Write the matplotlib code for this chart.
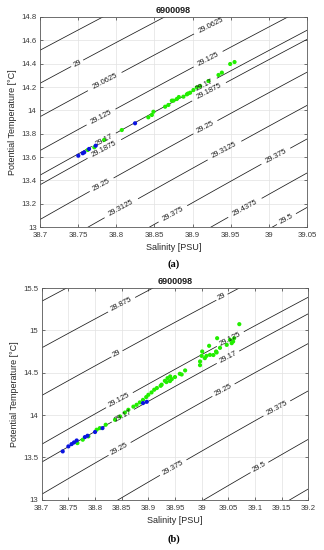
import numpy as np
import matplotlib
matplotlib.use("Agg")
import matplotlib.pyplot as plt
from matplotlib.ticker import FuncFormatter

plt.rcParams["font.family"] = ["Liberation Sans", "DejaVu Sans"]

# ---------------- data ----------------
title_text = "6900098"

# Panel (a)
a_green_S = [38.7626, 38.7712, 38.784, 38.8072, 38.842, 38.8466, 38.8487, 38.864,
             38.8683, 38.8728, 38.8749, 38.8793, 38.882, 38.888, 38.8925, 38.894,
             38.8968, 38.9011, 38.9056, 38.910, 38.9208, 38.934, 38.9384, 38.9493, 38.955]
a_green_T = [13.660, 13.683, 13.746, 13.831, 13.940, 13.960, 13.988, 14.031,
             14.046, 14.083, 14.083, 14.097, 14.114, 14.117, 14.137, 14.144,
             14.151, 14.174, 14.197, 14.208, 14.251, 14.303, 14.323, 14.397, 14.414]
a_blue_S = [38.7502, 38.756, 38.758, 38.7643, 38.773, 38.8246]
a_blue_T = [13.611, 13.632, 13.640, 13.669, 13.697, 13.889]
a_levels = [28.9375, 29.0, 29.0625, 29.125, 29.17, 29.1875, 29.25, 29.3125,
            29.375, 29.4375, 29.5]
a_xticks = [38.7, 38.75, 38.8, 38.85, 38.9, 38.95, 39.0, 39.05]
a_yticks = [13.0, 13.2, 13.4, 13.6, 13.8, 14.0, 14.2, 14.4, 14.6, 14.8]

# Panel (b)
b_green_S = [38.767, 38.777, 38.7875, 38.803, 38.809, 38.82, 38.8375, 38.847, 38.856,
             38.8625, 38.872, 38.878, 38.884, 38.89, 38.896, 38.9, 38.906, 38.911,
             38.916, 38.923, 38.925, 38.931, 38.934, 38.936, 38.941, 38.944, 38.9406,
             38.95, 38.959, 38.9625, 38.969, 38.997, 38.9969, 39.0, 39.001, 39.006,
             39.009, 39.014, 39.0156, 39.022, 39.027, 39.0281, 39.029, 39.0344,
             39.047, 39.053, 39.0563, 39.059, 39.061, 39.0706]
b_green_T = [13.669, 13.709, 13.748, 13.827, 13.846, 13.886, 13.945, 13.984, 14.030,
             14.063, 14.100, 14.122, 14.150, 14.180, 14.213, 14.240, 14.268, 14.300,
             14.320, 14.346, 14.360, 14.405, 14.390, 14.437, 14.457, 14.425, 14.402,
             14.450, 14.488, 14.480, 14.528, 14.634, 14.590, 14.700, 14.752, 14.673,
             14.700, 14.819, 14.712, 14.710, 14.752, 14.740, 14.909, 14.795,
             14.830, 14.890, 14.850, 14.870, 14.909, 15.075]
b_blue_S = [38.7394, 38.75, 38.756, 38.7606, 38.7656, 38.781, 38.786, 38.8, 38.814,
            38.89, 38.897]
b_blue_T = [13.571, 13.630, 13.657, 13.677, 13.700, 13.740, 13.756, 13.800, 13.846,
            14.142, 14.157]
b_levels = [28.75, 28.875, 29.0, 29.125, 29.17, 29.25, 29.375, 29.5, 29.625]
b_xticks = [38.7, 38.75, 38.8, 38.85, 38.9, 38.95, 39.0, 39.05, 39.1, 39.15, 39.2]
b_yticks = [13.0, 13.5, 14.0, 14.5, 15.0, 15.5]


def sigma0(S, T):
    """UNESCO EOS-80 density anomaly at surface pressure."""
    rw = (999.842594 + 6.793952e-2 * T - 9.095290e-3 * T**2 + 1.001685e-4 * T**3
          - 1.120083e-6 * T**4 + 6.536332e-9 * T**5)
    A = 0.824493 - 4.0899e-3 * T + 7.6438e-5 * T**2 - 8.2467e-7 * T**3 + 5.3875e-9 * T**4
    B = -5.72466e-3 + 1.0227e-4 * T - 1.6546e-6 * T**2
    C = 4.8314e-4
    return rw + A * S + B * S**1.5 + C * S**2 - 1000.0


FIG_W, FIG_H = 324, 550
fig = plt.figure(figsize=(FIG_W / 100, FIG_H / 100), dpi=100)
fig.patch.set_facecolor("white")

grey = "#262626"
tick_grey = "#3a3a3a"
spine_grey = "#5a5a5a"


def style_axes(ax, xticks, yticks, xlim, ylim):
    ax.set_xlim(*xlim)
    ax.set_ylim(*ylim)
    ax.set_xticks(xticks)
    ax.set_yticks(yticks)
    fmt = FuncFormatter(lambda v, p: "%g" % round(v, 4))
    ax.xaxis.set_major_formatter(fmt)
    ax.yaxis.set_major_formatter(fmt)
    ax.tick_params(direction="in", length=2, width=0.5, labelsize=5.6,
                   colors=tick_grey, top=True, right=True)
    ax.tick_params(axis="x", pad=3.5)
    ax.tick_params(axis="y", pad=2.5)
    ax.tick_params(labeltop=False, labelright=False)
    for s in ax.spines.values():
        s.set_color(spine_grey)
        s.set_linewidth(0.6)
    ax.grid(True, color="#e2e2e2", linewidth=0.5)
    ax.set_axisbelow(True)
    ax.set_xlabel("Salinity [PSU]", fontsize=6.5, color=grey, labelpad=3)
    ax.set_ylabel("Potential Temperature [°C]", fontsize=6.5, color=grey, labelpad=3)
    ax.set_title(title_text, fontsize=6.5, fontweight="bold", color="#1a1a1a", pad=3)


def draw_panel(ax, xlim, ylim, levels, gS, gT, bS, bT, label_pos, xticks, yticks):
    Sg = np.linspace(xlim[0] - 0.05, xlim[1] + 0.05, 300)
    Tg = np.linspace(ylim[0] - 0.3, ylim[1] + 0.3, 300)
    SS, TT = np.meshgrid(Sg, Tg)
    D = sigma0(SS, TT)
    cs = ax.contour(SS, TT, D, levels=levels, colors="#1a1a1a", linewidths=0.55)
    ax.clabel(cs, fmt=lambda v: "%g" % round(v, 4), fontsize=5.5, inline=True,
              inline_spacing=1, manual=label_pos)
    ax.scatter(gS, gT, s=9, color="#22ee00", edgecolors="none", zorder=3)
    ax.scatter(bS, bT, s=9, color="#0a14e0", edgecolors="none", zorder=4)
    style_axes(ax, xticks, yticks, xlim, ylim)


# Panel (a)
ax1 = fig.add_axes([40 / FIG_W, 1 - 227 / FIG_H, 267 / FIG_W, 210 / FIG_H])
a_lab = [(38.923, 14.746), (38.7485, 14.406), (38.785, 14.245), (38.781, 13.93),
         (38.921, 14.431), (38.914, 14.245), (38.9187, 14.197), (38.785, 13.731),
         (38.785, 13.66), (38.781, 13.36), (38.9165, 13.86), (38.809, 13.131),
         (38.9427, 13.645), (39.0105, 13.589), (38.875, 13.103), (38.969, 13.16),
         (39.0237, 13.06)]
draw_panel(ax1, (38.7, 39.05), (13.0, 14.8), a_levels, a_green_S, a_green_T,
           a_blue_S, a_blue_T, a_lab, a_xticks, a_yticks)

# Panel (b)
ax2 = fig.add_axes([41.7 / FIG_W, 1 - 499.7 / FIG_H, 266.6 / FIG_W, 211.5 / FIG_H])
b_lab = [(38.85, 15.303), (39.0375, 15.40), (38.8406, 14.732), (38.8438, 14.201),
         (39.053, 14.909), (38.853, 13.984), (39.047, 14.713), (38.847, 13.59),
         (39.0406, 14.299), (39.1406, 14.083), (38.947, 13.374), (39.109, 13.374)]
draw_panel(ax2, (38.7, 39.2), (13.0, 15.5), b_levels, b_green_S, b_green_T,
           b_blue_S, b_blue_T, b_lab, b_xticks, b_yticks)

fig.text(174 / FIG_W, 1 - 264 / FIG_H, "(a)", ha="center", va="center",
         fontsize=7.5, fontweight="bold", family="Liberation Serif")
fig.text(174 / FIG_W, 1 - 539 / FIG_H, "(b)", ha="center", va="center",
         fontsize=7.5, fontweight="bold", family="Liberation Serif")

fig.savefig("out.png", dpi=100, facecolor="white")
